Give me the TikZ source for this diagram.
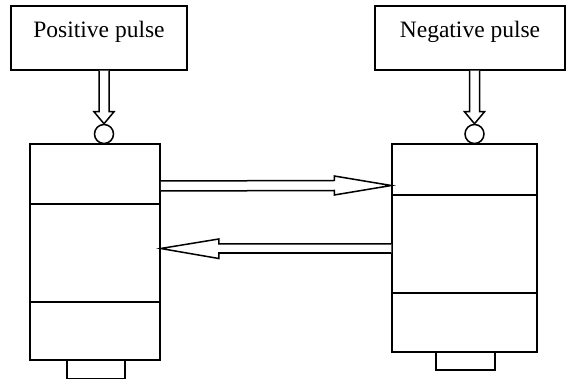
\documentclass[tikz,border=0pt]{standalone}
\usepackage{fontspec}
\setmainfont{Liberation Serif}
\usetikzlibrary{calc}
\tikzset{
  outline/.style={draw=black, line width=1.5pt},
  pulsebox/.style={outline, fill=white, minimum width=176pt, minimum height=64pt,
    inner sep=0pt, text height=10pt, text depth=10pt,
    font=\fontsize{23.5}{27}\selectfont},
  sect/.style={outline, fill=white, inner sep=0pt, minimum width=#1},
  inhibit/.style={outline, fill=white, circle, inner sep=0pt, minimum size=19pt},
  blockarr/.style={outline, line join=miter, fill=white}
}
% hollow block arrows: shaft half-width about 5, head half-width about 10
\newcommand\darrow[2]{%
  \draw[blockarr] ($(#1)+(-5,0)$) -- ($(#2)+(-5,-12)$) -- ($(#2)+(-10,-12)$) -- (#2)
    -- ($(#2)+(10,-12)$) -- ($(#2)+(5,-12)$) -- ($(#1)+(5,0)$);}
\newcommand\rarrow[2]{%
  \draw[blockarr] ($(#1)+(0,-5)$) -- ($(#2)+(-57,-5)$) -- ($(#2)+(-57,-9.5)$) -- (#2)
    -- ($(#2)+(-57,9.5)$) -- ($(#2)+(-57,5)$) -- ($(#1)+(0,5)$);}
\newcommand\larrow[2]{%
  \draw[blockarr] ($(#1)+(0,-4.5)$) -- ($(#2)+(58,-4.5)$) -- ($(#2)+(58,-9.5)$) -- (#2)
    -- ($(#2)+(58,10)$) -- ($(#2)+(58,4.5)$) -- ($(#1)+(0,4.5)$);}
\begin{document}
\begin{tikzpicture}[x=1pt, y=-1pt]
\useasboundingbox[fill=white] (0,0) rectangle (567,379);

% pulse sources
\node[pulsebox] (pos) at (99,38) {Positive pulse};
\node[pulsebox, minimum width=190pt] (neg) at (470,38) {Negative pulse};

% left unit
\node[sect=130pt, minimum height=60pt] (lt) at (95,174) {};
\node[sect=130pt, minimum height=98pt] (lm) at (95,253) {};
\node[sect=130pt, minimum height=58pt] (lb) at (95,331) {};
\node[sect=58pt, minimum height=19pt] (lf) at (96,369.5) {};

% right unit
\node[sect=145pt, minimum height=51pt] (rt) at (464.5,169.5) {};
\node[sect=145pt, minimum height=98pt] (rm) at (464.5,244) {};
\node[sect=145pt, minimum height=59pt] (rb) at (464.5,322.5) {};
\node[sect=59pt, minimum height=18pt] (rf) at (465.5,361) {};

% input circles
\node[inhibit] (pc) at (104,134) {};
\node[inhibit] (nc) at (474.5,134) {};

% pulse inputs
\darrow{[xshift=5pt]pos.south}{pc.north}
\darrow{[xshift=4.5pt]neg.south}{nc.north}

% links between the units
\rarrow{[yshift=-12pt]lt.east}{[yshift=-16pt]rt.west}
\larrow{[yshift=-4.5pt]rm.west}{[yshift=4.5pt]lm.east}
\end{tikzpicture}
\end{document}
